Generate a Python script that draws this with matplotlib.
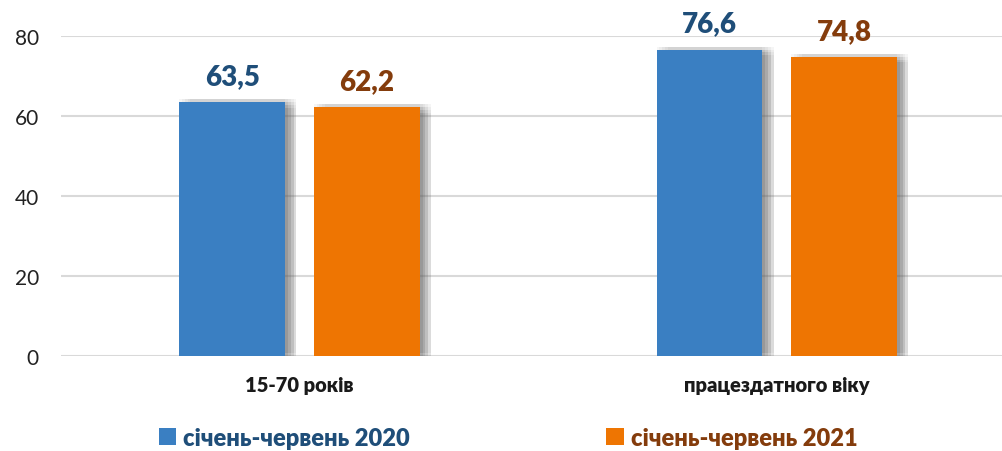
import numpy as np
import matplotlib
matplotlib.use("Agg")
import matplotlib.pyplot as plt
import matplotlib.patheffects as pe
from matplotlib.patches import Patch

categories = ["15-70 років", "працездатного віку"]
series_names = ["січень-червень 2020", "січень-червень 2021"]
values_2020 = [63.5, 76.6]
values_2021 = [62.2, 74.8]
yticks = [0, 20, 40, 60, 80]

bar_colors = ["#3A7FC2", "#EE7502"]
text_colors = ["#1F4E79", "#843C0C"]

plt.rcParams['font.family'] = ['Lato', 'DejaVu Sans']

fig = plt.figure(figsize=(10.02, 4.52), dpi=100)
ax = fig.add_axes([61 / 1002, 95 / 452, 941 / 1002, 320 / 452])

x = np.arange(len(categories))
width = 0.222
offset = 0.141
# soft blurred shadow: several faint offset copies
shadow = [pe.SimplePatchShadow(offset=(dx, dy), shadow_rgbFace='#606060', alpha=0.06)
          for dx in (0, 2, 4, 6, 8) for dy in (2, 0, -2, -4)] + [pe.Normal()]

for vals, sign, col, tcol in [(values_2020, -1, bar_colors[0], text_colors[0]),
                              (values_2021, 1, bar_colors[1], text_colors[1])]:
    bars = ax.bar(x + sign * offset, vals, width, color=col, zorder=3)
    for b, v in zip(bars, vals):
        b.set_path_effects(shadow)
        ax.annotate(f"{v:.1f}".replace(".", ","), (b.get_x() + b.get_width() / 2, v),
                    xytext=(0, 13), textcoords="offset points", ha="center", va="baseline",
                    fontsize=20, fontweight="heavy", color=tcol, zorder=4)

ax.set_xlim(-0.5, 1.472)
ax.set_ylim(0, 80)
ax.set_yticks(yticks)
ax.set_xticks(x)
ax.set_xticklabels(categories, fontsize=14.5, fontweight="heavy", color="#1a1a1a")
ax.tick_params(axis="y", length=0, pad=16, labelsize=15, labelcolor="#222222")
ax.tick_params(axis="x", length=0, pad=14)
ax.yaxis.grid(True, color="#D9D9D9", linewidth=1.5, zorder=0)
ax.set_axisbelow(True)
for s in ax.spines.values():
    s.set_visible(False)

handles = [Patch(facecolor=c, edgecolor="none") for c in bar_colors]
leg = fig.legend(handles, series_names, loc="center", bbox_to_anchor=(508 / 1002, 1 - 439 / 452),
                 ncol=2, frameon=False, handlelength=0.75, handleheight=0.75,
                 handletextpad=0.3, columnspacing=8.3,
                 prop={"family": ["Lato", "DejaVu Sans"], "weight": "heavy", "size": 17})
for t, c in zip(leg.get_texts(), text_colors):
    t.set_color(c)

fig.savefig("out.png", dpi=100)
